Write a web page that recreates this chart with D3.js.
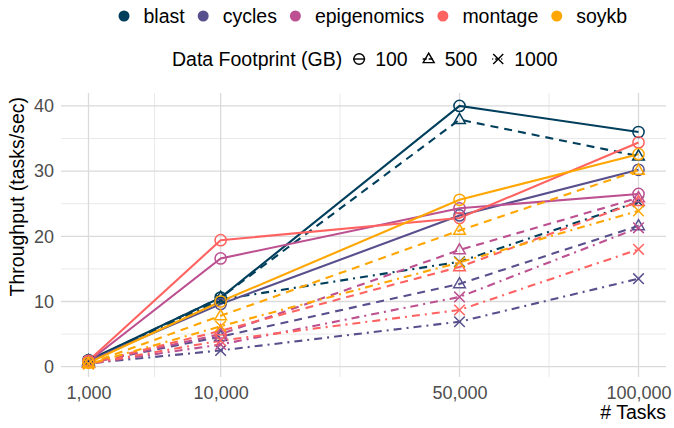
<!doctype html>
<html>
<head>
<script src="https://cdnjs.cloudflare.com/ajax/libs/d3/7.8.5/d3.min.js"></script>
<style>
  body { margin: 0; background: #fff; }
  text { font-family: "Liberation Sans", Arial, sans-serif; }
</style>
</head>
<body>
<svg id="chart" width="674" height="428"></svg>
<script>
// workflows and footprints
var workflows = ["blast", "cycles", "epigenomics", "montage", "soykb"];
var colors = ["#003f5c", "#58508d", "#bc5090", "#ff6361", "#ffa600"];
var footprints = ["100", "500", "1000"];
var taskCounts = [1000, 10000, 50000, 100000];
var yTicks = [0, 10, 20, 30, 40];

// throughput (tasks/sec) per workflow, one array per footprint, values at taskCounts
var blast100 = [1.0, 10.6, 40.0, 36.0];
var blast500 = [0.9, 10.6, 37.9, 32.3];
var blast1000 = [0.8, 10.3, 16.1, 25.3];
var cycles100 = [0.9, 9.6, 23.2, 30.2];
var cycles500 = [0.6, 4.6, 12.7, 21.6];
var cycles1000 = [0.5, 2.5, 6.9, 13.5];
var epigenomics100 = [0.8, 16.6, 24.3, 26.5];
var epigenomics500 = [0.5, 5.0, 17.9, 25.9];
var epigenomics1000 = [0.45, 3.4, 10.7, 21.3];
var montage100 = [0.9, 19.4, 22.8, 34.4];
var montage500 = [0.5, 5.5, 15.3, 25.3];
var montage1000 = [0.45, 4.0, 8.7, 18.0];
var soykb100 = [0.6, 10.0, 25.6, 32.6];
var soykb500 = [0.45, 7.8, 20.9, 30.1];
var soykb1000 = [0.4, 6.2, 16.0, 23.9];

var series = [
  {w: "blast", f: "100", v: blast100}, {w: "blast", f: "500", v: blast500}, {w: "blast", f: "1000", v: blast1000},
  {w: "cycles", f: "100", v: cycles100}, {w: "cycles", f: "500", v: cycles500}, {w: "cycles", f: "1000", v: cycles1000},
  {w: "epigenomics", f: "100", v: epigenomics100}, {w: "epigenomics", f: "500", v: epigenomics500}, {w: "epigenomics", f: "1000", v: epigenomics1000},
  {w: "montage", f: "100", v: montage100}, {w: "montage", f: "500", v: montage500}, {w: "montage", f: "1000", v: montage1000},
  {w: "soykb", f: "100", v: soykb100}, {w: "soykb", f: "500", v: soykb500}, {w: "soykb", f: "1000", v: soykb1000}
];

var svg = d3.select("#chart");
var panel = {left: 61, right: 666, top: 93, bottom: 377};

var color = d3.scaleOrdinal().domain(workflows).range(colors);
var dash = d3.scaleOrdinal().domain(footprints).range(["none", "8,6", "2,5,8,5"]);

// ggplot-like 5% expansion, x in sqrt space
var sLo = Math.sqrt(d3.min(taskCounts)), sHi = Math.sqrt(d3.max(taskCounts));
var sPad = (sHi - sLo) * 0.05;
var x = d3.scaleSqrt()
  .domain([Math.pow(sLo - sPad, 2), Math.pow(sHi + sPad, 2)])
  .range([panel.left, panel.right]);

var allV = d3.merge(series.map(function(s) { return s.v; }));
var yMin = d3.min(allV), yMax = d3.max(allV), yPad = (yMax - yMin) * 0.05;
var y = d3.scaleLinear().domain([yMin - yPad, yMax + yPad]).range([panel.bottom, panel.top]);

// grid
var grid = svg.append("g");
var xMinor = d3.pairs(taskCounts).map(function(p) {
  return Math.pow((Math.sqrt(p[0]) + Math.sqrt(p[1])) / 2, 2);
});
var yMinor = d3.pairs(yTicks).map(function(p) { return (p[0] + p[1]) / 2; });

grid.selectAll(".ymin").data(yMinor).enter().append("line")
  .attr("x1", panel.left).attr("x2", panel.right)
  .attr("y1", d => y(d)).attr("y2", d => y(d))
  .attr("stroke", "#e3e3e3").attr("stroke-width", 0.8);
grid.selectAll(".xmin").data(xMinor).enter().append("line")
  .attr("y1", panel.top).attr("y2", panel.bottom)
  .attr("x1", d => x(d)).attr("x2", d => x(d))
  .attr("stroke", "#e3e3e3").attr("stroke-width", 0.8);
grid.selectAll(".ymaj").data(yTicks).enter().append("line")
  .attr("x1", panel.left).attr("x2", panel.right)
  .attr("y1", d => y(d)).attr("y2", d => y(d))
  .attr("stroke", "#dadada").attr("stroke-width", 1.3);
grid.selectAll(".xmaj").data(taskCounts).enter().append("line")
  .attr("y1", panel.top).attr("y2", panel.bottom)
  .attr("x1", d => x(d)).attr("x2", d => x(d))
  .attr("stroke", "#dadada").attr("stroke-width", 1.3);

// axes (labels only)
var fmt = d3.format(",");
var xAxis = svg.append("g").attr("transform", "translate(0," + panel.bottom + ")")
  .call(d3.axisBottom(x).tickValues(taskCounts).tickFormat(fmt).tickSize(0).tickPadding(9));
var yAxis = svg.append("g").attr("transform", "translate(" + panel.left + ",0)")
  .call(d3.axisLeft(y).tickValues(yTicks).tickSize(0).tickPadding(7));
[xAxis, yAxis].forEach(function(a) {
  a.select(".domain").remove();
  a.selectAll("text").attr("font-size", 18).attr("fill", "#4d4d4d")
    .style("font-family", "'Liberation Sans', Arial, sans-serif");
});

svg.append("text")
  .attr("transform", "translate(17,97) rotate(-90)")
  .attr("text-anchor", "end").attr("dominant-baseline", "central")
  .attr("font-size", 19.5).attr("fill", "#000")
  .text("Throughput (tasks/sec)");
svg.append("text")
  .attr("x", 666).attr("y", 419).attr("text-anchor", "end")
  .attr("font-size", 19.5).attr("fill", "#000")
  .text("# Tasks");

// shapes
function shapePath(f, r) {
  if (f === "100") return null;
  if (f === "500") {
    var h = r * 1.9;
    return "M0," + (-h * 0.62) + "L" + (r * 1.1) + "," + (h * 0.38) + "L" + (-r * 1.1) + "," + (h * 0.38) + "Z";
  }
  return "M" + (-r) + "," + (-r) + "L" + r + "," + r + "M" + (-r) + "," + r + "L" + r + "," + (-r);
}

var line = d3.line().x(d => x(d[0])).y(d => y(d[1]));
var plot = svg.append("g");

plot.selectAll(".series").data(series).enter().append("path")
  .attr("d", s => line(taskCounts.map((t, i) => [t, s.v[i]])))
  .attr("fill", "none")
  .attr("stroke", s => color(s.w))
  .attr("stroke-width", 2.1)
  .attr("stroke-dasharray", s => dash(s.f));

series.forEach(function(s) {
  var g = plot.append("g");
  var pts = taskCounts.map((t, i) => [t, s.v[i]]);
  if (s.f === "100") {
    g.selectAll("circle").data(pts).enter().append("circle")
      .attr("cx", d => x(d[0])).attr("cy", d => y(d[1])).attr("r", 5.6)
      .attr("fill", "none").attr("stroke", color(s.w)).attr("stroke-width", 1.5);
  } else {
    g.selectAll("path").data(pts).enter().append("path")
      .attr("transform", d => "translate(" + x(d[0]) + "," + y(d[1]) + ")")
      .attr("d", shapePath(s.f, 5.3))
      .attr("fill", "none").attr("stroke", color(s.w)).attr("stroke-width", 1.5);
  }
});

// legend row 1: workflows
var leg1 = svg.append("g");
var cx = 124;
workflows.forEach(function(w) {
  leg1.append("circle").attr("cx", cx).attr("cy", 16).attr("r", 5.5).attr("fill", color(w));
  var t = leg1.append("text").attr("x", cx + 19.5).attr("y", 16)
    .attr("dominant-baseline", "central").attr("font-size", 19.5).text(w);
  cx += 19.5 + t.node().getComputedTextLength() + 18.5;
});

// legend row 2: footprints
var leg2 = svg.append("g");
var title = leg2.append("text").attr("x", 172).attr("y", 59)
  .attr("dominant-baseline", "central").attr("font-size", 19.5).text("Data Footprint (GB)");
var kx = 172 + title.node().getComputedTextLength() + 17;
footprints.forEach(function(f) {
  leg2.append("line").attr("x1", kx - 6).attr("x2", kx + 6).attr("y1", 59).attr("y2", 59)
    .attr("stroke", "#000").attr("stroke-width", 1.4).attr("stroke-dasharray", f === "100" ? "none" : f === "500" ? "4,2" : "1,2,4,2");
  if (f === "100") {
    leg2.append("circle").attr("cx", kx).attr("cy", 59).attr("r", 5.3)
      .attr("fill", "none").attr("stroke", "#000").attr("stroke-width", 1.4);
  } else {
    leg2.append("path").attr("transform", "translate(" + kx + ",59)").attr("d", shapePath(f, 5))
      .attr("fill", "none").attr("stroke", "#000").attr("stroke-width", 1.4);
  }
  var t = leg2.append("text").attr("x", kx + 16).attr("y", 59)
    .attr("dominant-baseline", "central").attr("font-size", 19.5).text(f);
  kx += 16 + t.node().getComputedTextLength() + 21;
});
</script>
</body>
</html>
